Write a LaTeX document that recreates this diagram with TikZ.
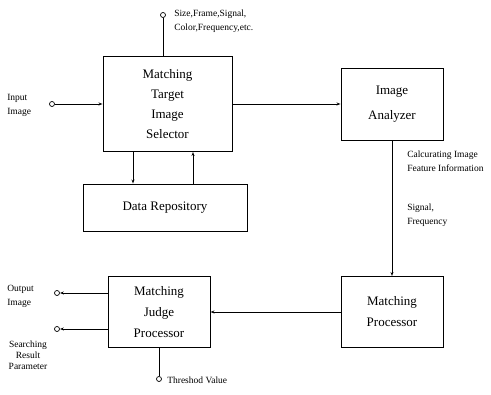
\documentclass[tikz,border=0pt]{standalone}
\usepackage{fontspec}
\setmainfont{Liberation Serif}
\usetikzlibrary{arrows.meta}

\tikzset{
  block/.style={draw, line width=0.9pt, align=center, inner sep=0pt,
    font=\fontsize{13}{20}\selectfont},
  port/.style={draw, circle, inner sep=0pt, minimum size=5pt, line width=0.7pt},
  lbl/.style={align=left, inner sep=0pt, font=\fontsize{9.5}{14}\selectfont},
  >={Stealth[open,length=4pt,width=3pt]}
}

\begin{document}
\begin{tikzpicture}[x=1pt, y=-1pt, line width=0.6pt]
  \useasboundingbox (0,0) rectangle (491,395);

  % Bloecke
  \node[block, minimum width=129pt, minimum height=95pt] (mtis) at (167.5,104)
    {Matching\\Target\\Image\\Selector};
  \node[block, minimum width=102pt, minimum height=72pt, font=\fontsize{13}{25}\selectfont]
    (ia) at (392,104) {Image\\Analyzer};
  \node[block, minimum width=164pt, minimum height=47pt] (dr) at (165,207.5) {Data Repository};
  \node[block, minimum width=102pt, minimum height=71pt, font=\fontsize{13}{21}\selectfont]
    (mp) at (392,312) {Matching\\Processor};
  \node[block, minimum width=102pt, minimum height=71pt, font=\fontsize{13}{21}\selectfont]
    (mjp) at (159,312) {Matching\\Judge\\Processor};

  % Anschluesse
  \node[port] (top) at (163,15) {};
  \node[port] (inp) at (52,104) {};
  \node[port] (outimg) at (57,293) {};
  \node[port] (outres) at (57,329) {};
  \node[port] (thr) at (159,379) {};

  % Beschriftungen
  \node[lbl, anchor=west] (toplbl) at (174,21) {Size,Frame,Signal,\\Color,Frequency,etc.};
  \node[lbl, anchor=west] (inplbl) at (7,105) {Input\\Image};
  \node[lbl, anchor=west] (calclbl) at (407,161) {Calcurating Image\\Feature Information};
  \node[lbl, anchor=west] (siglbl) at (407,215) {Signal,\\Frequency};
  \node[lbl, anchor=west] (outlbl) at (7,296) {Output\\Image};
  \node[lbl, align=center, anchor=north, font=\fontsize{9.5}{11}\selectfont] (reslbl) at (28,341)
    {Searching\\Result\\Parameter};
  \node[lbl, anchor=west] (thrlbl) at (167,380) {Threshod Value};

  % Verbindungen
  \draw (top) -- (top |- mtis.north);
  \draw[->] (inp) -- (inp -| mtis.west);
  \draw[->] (mtis.east) -- (ia.west);
  \draw[->] ([xshift=-34.5pt]mtis.south) -- ([xshift=-34.5pt]mtis.south |- dr.north);
  \draw[->] ([xshift=25.5pt]mtis.south |- dr.north) -- ([xshift=25.5pt]mtis.south);
  \draw[->] (ia.south) -- (mp.north);
  \draw[->] (mp.west) -- (mjp.east);
  \draw[->] (outimg -| mjp.west) -- (outimg);
  \draw[->] (outres -| mjp.west) -- (outres);
  \draw (mjp.south) -- (thr);
\end{tikzpicture}
\end{document}
